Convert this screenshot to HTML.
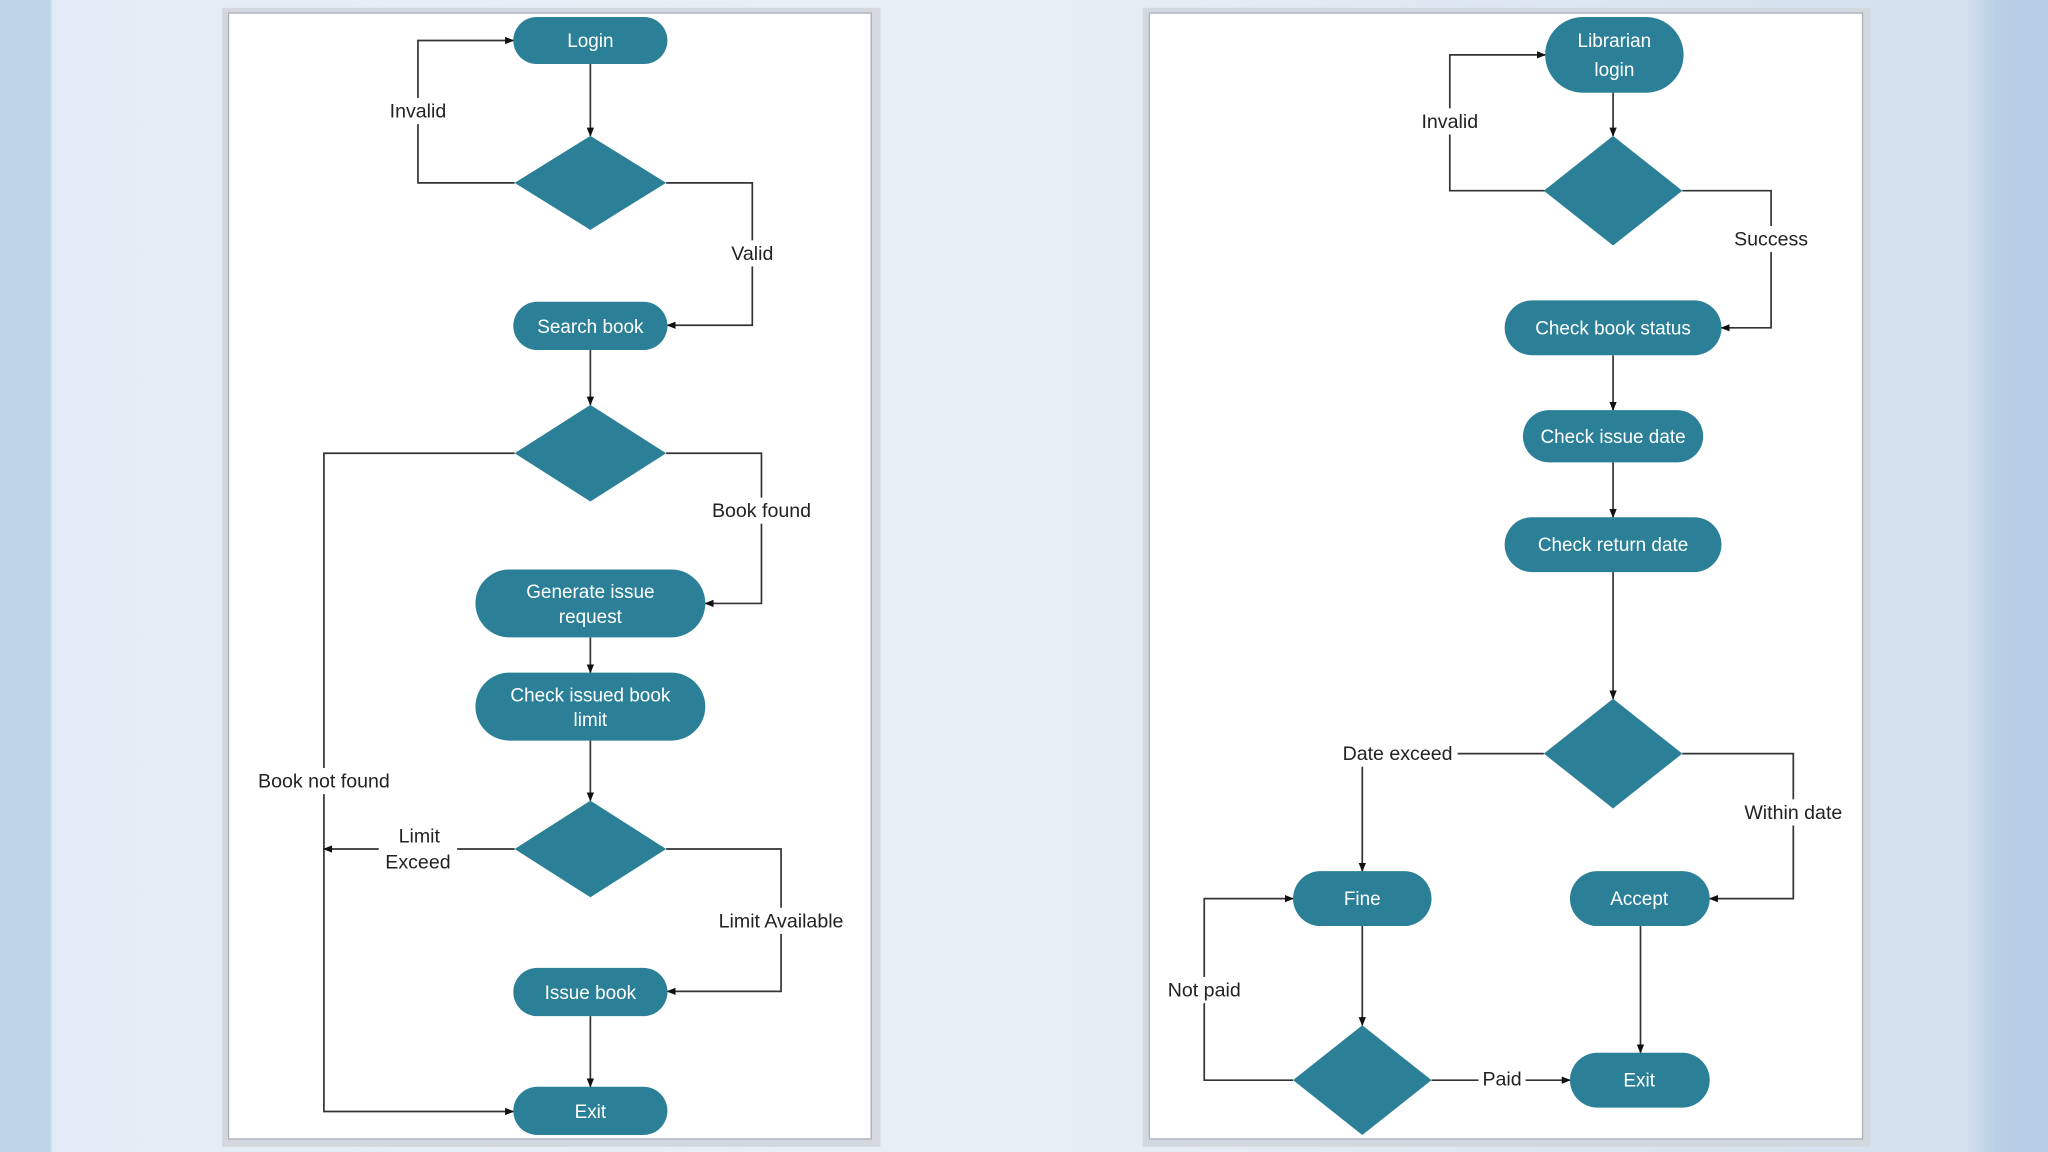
<!DOCTYPE html>
<html><head><meta charset="utf-8"><style>
html,body{margin:0;padding:0;width:2048px;height:1152px;overflow:hidden}
svg{display:block}
text{font-family:"Liberation Sans",sans-serif}
.n{fill:#fff;font-size:14.5px;text-anchor:middle}
.l{fill:#222;font-size:15px;text-anchor:middle}
.c{fill:none;stroke:#333;stroke-width:1.3}
.s{fill:#2b8098}
</style></head><body>
<svg width="2048" height="1152" viewBox="0 0 1568 882" xmlns="http://www.w3.org/2000/svg">
<defs>
<linearGradient id="bg" x1="0" x2="1" y1="0" y2="0">
<stop offset="0" stop-color="#bdd3e8"/><stop offset="0.024" stop-color="#bdd3e8"/>
<stop offset="0.026" stop-color="#e3ecf6"/><stop offset="0.5" stop-color="#e8eef5"/>
<stop offset="0.96" stop-color="#d3e0ee"/><stop offset="0.975" stop-color="#b8cfe6"/><stop offset="1" stop-color="#b5cde6"/>
</linearGradient>
<marker id="a" viewBox="0 0 10 10" refX="9" refY="5" markerWidth="7" markerHeight="7" orient="auto-start-reverse" markerUnits="userSpaceOnUse"><path d="M0,1 L10,5 L0,9z" fill="#111"/></marker>
</defs>
<rect width="1568" height="882" fill="url(#bg)"/>
<!-- panels -->
<rect x="170" y="6" width="504" height="872" fill="#d3d8de"/>
<rect x="175" y="10" width="492" height="862" fill="#fff" stroke="#a8afb7" stroke-width="1"/>
<rect x="875" y="6" width="557" height="872" fill="#d3d8de"/>
<rect x="880" y="10" width="546" height="862" fill="#fff" stroke="#a8afb7" stroke-width="1"/>

<!-- LEFT connectors -->
<g class="c">
<path d="M452,49 V104" marker-end="url(#a)"/>
<path d="M394,140 H320 V31 H393" marker-end="url(#a)"/>
<path d="M510,140 H576 V249 H511" marker-end="url(#a)"/>
<path d="M452,268 V310" marker-end="url(#a)"/>
<path d="M510,347 H583 V462 H540" marker-end="url(#a)"/>
<path d="M394,347 H248 V851 H393" marker-end="url(#a)"/>
<path d="M452,488 V515" marker-end="url(#a)"/>
<path d="M452,567 V613" marker-end="url(#a)"/>
<path d="M394,650 H248" marker-end="url(#a)"/>
<path d="M510,650 H598 V759 H511" marker-end="url(#a)"/>
<path d="M452,778 V832" marker-end="url(#a)"/>
</g>
<g>
<rect x="291" y="75" width="58" height="20" fill="#fff"/><text class="l" x="320" y="90">Invalid</text>
<rect x="553" y="184" width="46" height="20" fill="#fff"/><text class="l" x="576" y="199">Valid</text>
<rect x="536" y="381" width="94" height="20" fill="#fff"/><text class="l" x="583" y="396">Book found</text>
<rect x="186" y="588" width="124" height="20" fill="#fff"/><text class="l" x="248" y="603">Book not found</text>
<rect x="290" y="630" width="60" height="40" fill="#fff"/><text class="l" x="321" y="645">Limit</text><text class="l" x="320" y="665">Exceed</text>
<rect x="539" y="695" width="118" height="20" fill="#fff"/><text class="l" x="598" y="710">Limit Available</text>
</g>
<!-- LEFT shapes -->
<rect class="s" x="393" y="13" width="118" height="36" rx="18"/><text class="n" x="452" y="36">Login</text>
<polygon class="s" points="452,104 510,140 452,176 394,140"/>
<rect class="s" x="393" y="231" width="118" height="37" rx="18.5"/><text class="n" x="452" y="255">Search book</text>
<polygon class="s" points="452,310 510,347 452,384 394,347"/>
<rect class="s" x="364" y="436" width="176" height="52" rx="26"/><text class="n" x="452" y="458">Generate issue</text><text class="n" x="452" y="477">request</text>
<rect class="s" x="364" y="515" width="176" height="52" rx="26"/><text class="n" x="452" y="537">Check issued book</text><text class="n" x="452" y="556">limit</text>
<polygon class="s" points="452,613 510,650 452,687 394,650"/>
<rect class="s" x="393" y="741" width="118" height="37" rx="18.5"/><text class="n" x="452" y="765">Issue book</text>
<rect class="s" x="393" y="832" width="118" height="37" rx="18.5"/><text class="n" x="452" y="856">Exit</text>

<!-- RIGHT connectors -->
<g class="c">
<path d="M1235,71 V104" marker-end="url(#a)"/>
<path d="M1183,146 H1110 V42 H1183" marker-end="url(#a)"/>
<path d="M1288,146 H1356 V251 H1318" marker-end="url(#a)"/>
<path d="M1235,272 V314" marker-end="url(#a)"/>
<path d="M1235,354 V396" marker-end="url(#a)"/>
<path d="M1235,438 V535" marker-end="url(#a)"/>
<path d="M1182,577 H1043 V667" marker-end="url(#a)"/>
<path d="M1288,577 H1373 V688 H1309" marker-end="url(#a)"/>
<path d="M1043,709 V785" marker-end="url(#a)"/>
<path d="M990,827 H922 V688 H990" marker-end="url(#a)"/>
<path d="M1096,827 H1202" marker-end="url(#a)"/>
<path d="M1256,709 V806" marker-end="url(#a)"/>
</g>
<g>
<rect x="1084" y="83" width="52" height="20" fill="#fff"/><text class="l" x="1110" y="98">Invalid</text>
<rect x="1326" y="173" width="60" height="20" fill="#fff"/><text class="l" x="1356" y="188">Success</text>
<rect x="1024" y="567" width="92" height="20" fill="#fff"/><text class="l" x="1070" y="582">Date exceed</text>
<rect x="1329" y="612" width="88" height="20" fill="#fff"/><text class="l" x="1373" y="627">Within date</text>
<rect x="889" y="748" width="66" height="20" fill="#fff"/><text class="l" x="922" y="763">Not paid</text>
<rect x="1132" y="816" width="36" height="20" fill="#fff"/><text class="l" x="1150" y="831">Paid</text>
</g>
<!-- RIGHT shapes -->
<rect class="s" x="1183" y="13" width="106" height="58" rx="29"/><text class="n" x="1236" y="36">Librarian</text><text class="n" x="1236" y="58">login</text>
<polygon class="s" points="1235,104 1288,146 1235,188 1182,146"/>
<rect class="s" x="1152" y="230" width="166" height="42" rx="21"/><text class="n" x="1235" y="256">Check book status</text>
<rect class="s" x="1166" y="314" width="138" height="40" rx="20"/><text class="n" x="1235" y="339">Check issue date</text>
<rect class="s" x="1152" y="396" width="166" height="42" rx="21"/><text class="n" x="1235" y="422">Check return date</text>
<polygon class="s" points="1235,535 1288,577 1235,619 1182,577"/>
<rect class="s" x="990" y="667" width="106" height="42" rx="21"/><text class="n" x="1043" y="693">Fine</text>
<rect class="s" x="1202" y="667" width="107" height="42" rx="21"/><text class="n" x="1255" y="693">Accept</text>
<polygon class="s" points="1043,785 1096,827 1043,869 990,827"/>
<rect class="s" x="1202" y="806" width="107" height="42" rx="21"/><text class="n" x="1255" y="832">Exit</text>
</svg>
</body></html>
